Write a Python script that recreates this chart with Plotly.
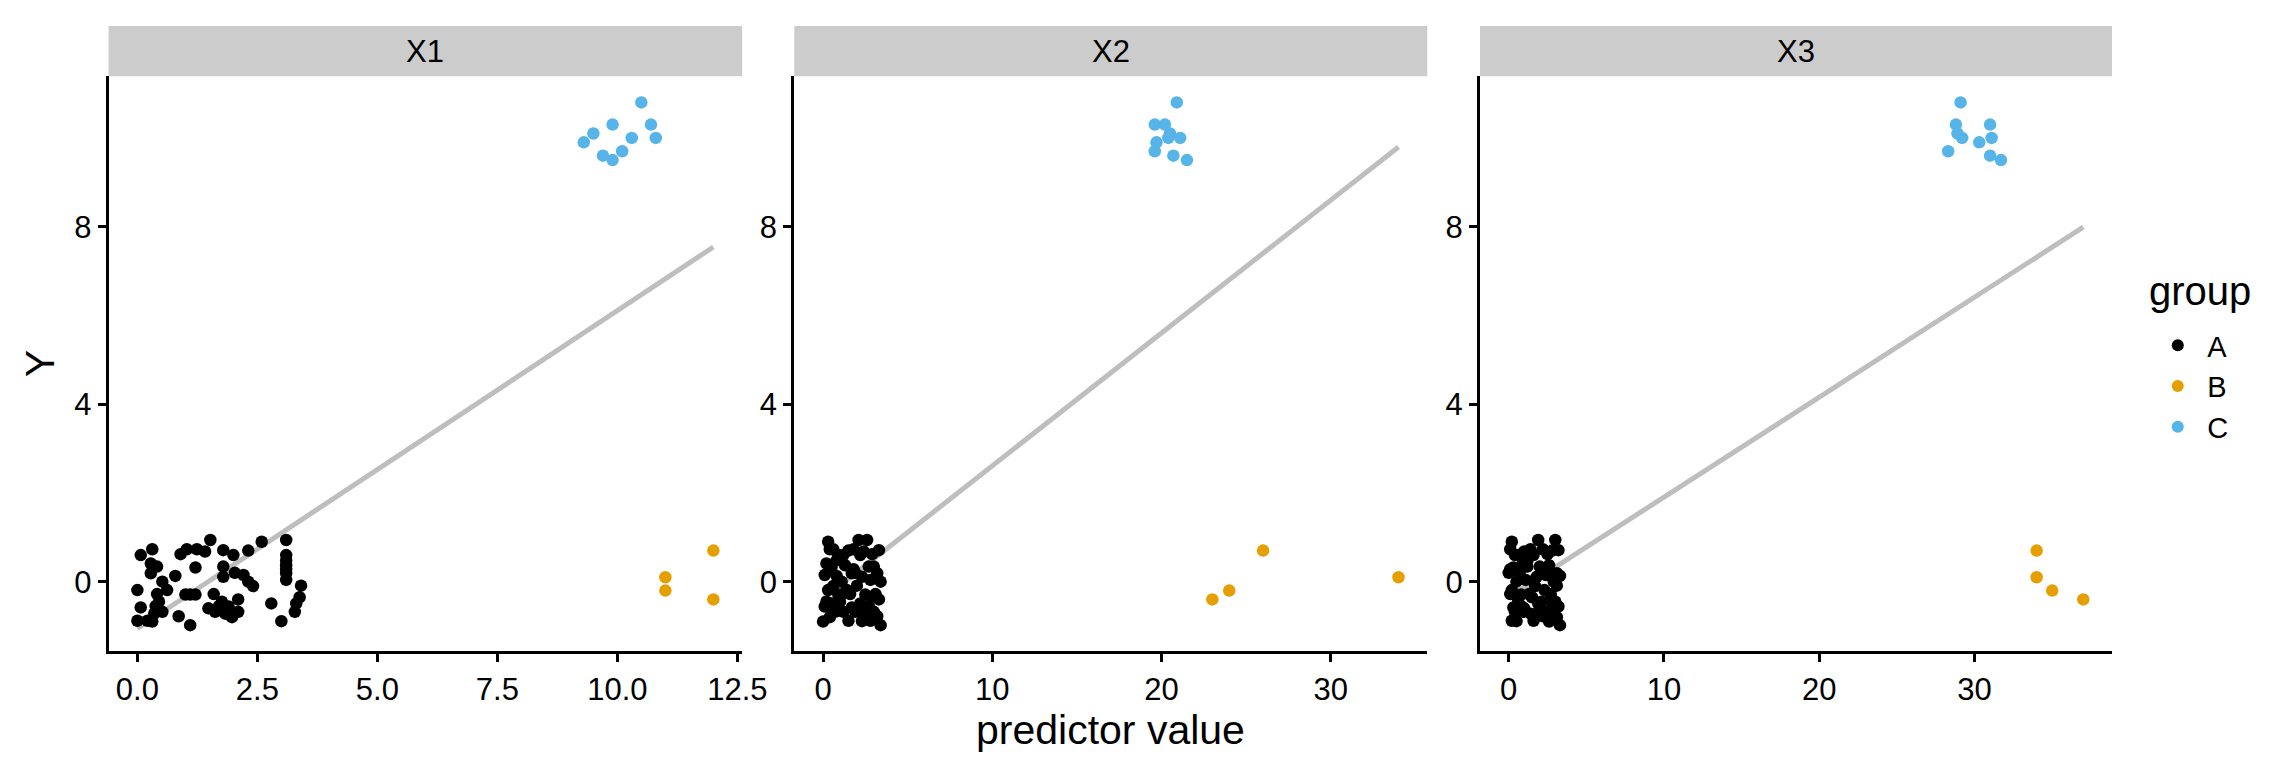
import numpy as np
import plotly.graph_objects as go

# ---------------- data ----------------
panels = ["X1", "X2", "X3"]
groups = ["A", "B", "C"]
group_colors = ["#000000", "#E69F00", "#56B4E9"]

y_A = [0.94, 0.90, 0.94, 0.60, 0.73, 0.62, 0.73, 0.73, 0.68, 0.71,
       0.60, 0.70, 0.60, 0.41, 0.34, 0.19, 0.32, 0.34, 0.37, 0.19,
       0.13, 0.11, 0.20, 0.15, 0.04, 0.00, 0.00, -0.10, -0.09, -0.19,
       -0.19, -0.28, -0.29, -0.29, -0.28, -0.35, -0.45, -0.45, -0.40, -0.49,
       -0.49, -0.58, -0.60, -0.56, -0.68, -0.68, -0.72, -0.68, -0.68, -0.78,
       -0.80, -0.88, -0.88, -0.90, -0.89, -0.98, 0.48, 0.28, -0.55, -0.29,
       -0.55, -0.72]
x1_A = [1.52, 2.59, 3.10, 0.07, 0.31, 0.90, 1.03, 1.24, 1.41, 1.79,
        2.00, 2.31, 3.10, 0.28, 0.41, 0.28, 1.21, 1.79, 3.10, 3.10,
        0.79, 1.79, 2.03, 2.21, 3.10, 0.52, 2.31, 2.41, 3.41, 0.00,
        0.62, 0.41, 1.00, 1.21, 1.59, 3.38, 0.45, 1.76, 2.10, 2.79,
        3.31, 0.07, 1.48, 1.90, 0.52, 1.62, 1.83, 2.10, 3.28, 0.86,
        1.97, 0.00, 0.21, 0.31, 3.00, 1.10, 3.10, 3.10, 0.38, 1.10,
        1.70, 0.35]
x2_A = [2.1, 0.3, 2.6, 1.2, 0.4, 2.9, 1.8, 0.6, 2.4, 3.3,
        0.9, 1.5, 2.2, 0.2, 3.0, 1.7, 0.5, 2.7, 1.3, 3.2,
        0.8, 2.3, 1.9, 0.1, 2.8, 1.1, 3.4, 0.6, 2.0, 1.4,
        0.3, 3.1, 2.5, 0.9, 1.6, 2.9, 0.2, 1.0, 3.3, 2.2,
        0.5, 1.7, 2.6, 0.1, 3.0, 1.2, 2.4, 0.7, 1.9, 3.2,
        0.4, 2.8, 1.5, 0.0, 2.3, 3.4, 0.8, 1.8, 2.7, 1.1,
        0.2, 2.5]
x3_A = [1.9, 0.2, 3.0, 0.6, 1.4, 2.5, 0.1, 2.2, 1.0, 3.2,
        0.4, 2.8, 1.6, 0.9, 2.0, 3.1, 0.3, 1.2, 2.6, 0.7,
        3.3, 1.8, 0.0, 2.4, 1.1, 2.9, 0.5, 1.7, 3.1, 0.2,
        2.3, 1.3, 0.8, 2.7, 0.1, 1.5, 3.0, 2.1, 0.6, 1.9,
        2.8, 0.3, 1.0, 3.2, 2.5, 0.4, 1.4, 2.9, 0.9, 2.2,
        3.1, 0.2, 1.6, 2.6, 0.5, 3.3, 1.2, 0.1, 2.0, 2.7,
        0.8, 1.8]

y_B = [0.1, -0.2, 0.7, -0.4]
x1_B = [11, 11, 12, 12]
x2_B = [34, 24, 26, 23]
x3_B = [34, 35, 34, 37]

y_C = [10.8, 10.3, 10.3, 10.1, 10.0, 10.0, 9.9, 9.7, 9.6, 9.5]
x1_C = [10.5, 9.9, 10.7, 9.5, 10.8, 10.3, 9.3, 10.1, 9.7, 9.9]
x2_C = [20.9, 19.6, 20.2, 20.5, 20.4, 21.1, 19.7, 19.6, 20.7, 21.5]
x3_C = [29.1, 28.8, 31.0, 28.9, 29.2, 31.1, 30.3, 28.3, 31.0, 31.7]

y_by_group = [y_A, y_B, y_C]
x_by_panel = [[x1_A, x1_B, x1_C], [x2_A, x2_B, x2_C], [x3_A, x3_B, x3_C]]
x_dtick = [2.5, 10, 10]
x_tickformat = [".1f", "d", "d"]

# ---------------- layout geometry (pixels) ----------------
W, H = 2280, 760
FONT = "Liberation Sans, Arial, Helvetica, sans-serif"
panel_px = [(101.7, 742.3), (795.0, 1435.0), (1488.3, 2127.3)]
plot_top, plot_bottom = 68.3, 643.3
strip_top = 18.0
TICK_SIZE = 31
STRIP_SIZE = 31
TITLE_SIZE = 41
LEGEND_TITLE_SIZE = 40
LEGEND_SIZE = 29


def px_x(p):
    return p / W


def px_y(p):
    return 1 - p / H


def expand(vals, frac=0.05):
    lo, hi = min(vals), max(vals)
    d = (hi - lo) * frac
    return [lo - d, hi + d]


all_y = y_A + y_B + y_C
y_range = expand(all_y)

fig = go.Figure()

axis_common = dict(
    showline=True, linecolor="black", linewidth=3,
    ticks="outside", ticklen=8, tickwidth=3, tickcolor="black",
    showgrid=False, zeroline=False,
    tickfont=dict(family=FONT, size=TICK_SIZE, color="black"),
)

layout_axes = {}
for i, name in enumerate(panels):
    sfx = "" if i == 0 else str(i + 1)
    xs = x_by_panel[i]
    all_x = xs[0] + xs[1] + xs[2]
    # regression line (all groups pooled), drawn beneath the points
    slope, intercept = np.polyfit(np.array(all_x), np.array(all_y), 1)
    xl = np.array([min(all_x), max(all_x)])
    fig.add_trace(go.Scatter(
        x=xl, y=intercept + slope * xl, mode="lines",
        line=dict(color="#BEBEBE", width=5),
        showlegend=False, hoverinfo="skip",
        xaxis="x" + sfx, yaxis="y" + sfx,
    ))
    for g, grp in enumerate(groups):
        fig.add_trace(go.Scatter(
            x=xs[g], y=y_by_group[g], mode="markers", name=grp,
            legendgroup=grp, showlegend=(i == 0),
            marker=dict(color=group_colors[g], size=12.5, line=dict(width=0)),
            xaxis="x" + sfx, yaxis="y" + sfx,
        ))
    x0, x1 = panel_px[i]
    layout_axes["xaxis" + sfx] = dict(
        axis_common, domain=[px_x(x0), px_x(x1)], range=expand(all_x),
        anchor="y" + sfx, tick0=0, dtick=x_dtick[i], tickformat=x_tickformat[i],
    )
    layout_axes["yaxis" + sfx] = dict(
        axis_common, domain=[px_y(plot_bottom), px_y(plot_top)], range=y_range,
        anchor="x" + sfx, tick0=0, dtick=4,
    )

shapes = []
annotations = []
for i, name in enumerate(panels):
    x0, x1 = panel_px[i]
    shapes.append(dict(
        type="rect", xref="paper", yref="paper",
        x0=px_x(x0), x1=px_x(x1), y0=px_y(plot_top), y1=px_y(strip_top),
        fillcolor="#CCCCCC", line=dict(width=0), layer="below",
    ))
    annotations.append(dict(
        text=name, xref="paper", yref="paper",
        x=px_x((x0 + x1) / 2), y=px_y((strip_top + plot_top) / 2),
        xanchor="center", yanchor="middle", showarrow=False,
        font=dict(family=FONT, size=STRIP_SIZE, color="black"),
    ))

annotations.append(dict(
    text="predictor value", xref="paper", yref="paper",
    x=px_x((panel_px[1][0] + panel_px[1][1]) / 2), y=px_y(722),
    xanchor="center", yanchor="middle", showarrow=False,
    font=dict(family=FONT, size=TITLE_SIZE, color="black"),
))
annotations.append(dict(
    text="Y", xref="paper", yref="paper",
    x=px_x(31.7), y=px_y((plot_top + plot_bottom) / 2),
    xanchor="center", yanchor="middle", showarrow=False, textangle=-90,
    font=dict(family=FONT, size=TITLE_SIZE, color="black"),
))
# legend title
annotations.append(dict(
    text="group", xref="paper", yref="paper",
    x=px_x(2163), y=px_y(283),
    xanchor="left", yanchor="middle", showarrow=False,
    font=dict(family=FONT, size=LEGEND_TITLE_SIZE, color="black"),
))

fig.update_layout(
    width=W, height=H,
    margin=dict(l=0, r=0, t=0, b=0),
    paper_bgcolor="white", plot_bgcolor="white",
    font=dict(family=FONT, color="black"),
    shapes=shapes, annotations=annotations,
    legend=dict(
        x=px_x(2164), y=px_y(312), xanchor="left", yanchor="top",
        font=dict(family=FONT, size=LEGEND_SIZE, color="black"),
        bgcolor="rgba(0,0,0,0)", borderwidth=0, itemsizing="constant",
        itemwidth=49, tracegroupgap=0,
    ),
    **layout_axes,
)

fig.write_html("out.html")
